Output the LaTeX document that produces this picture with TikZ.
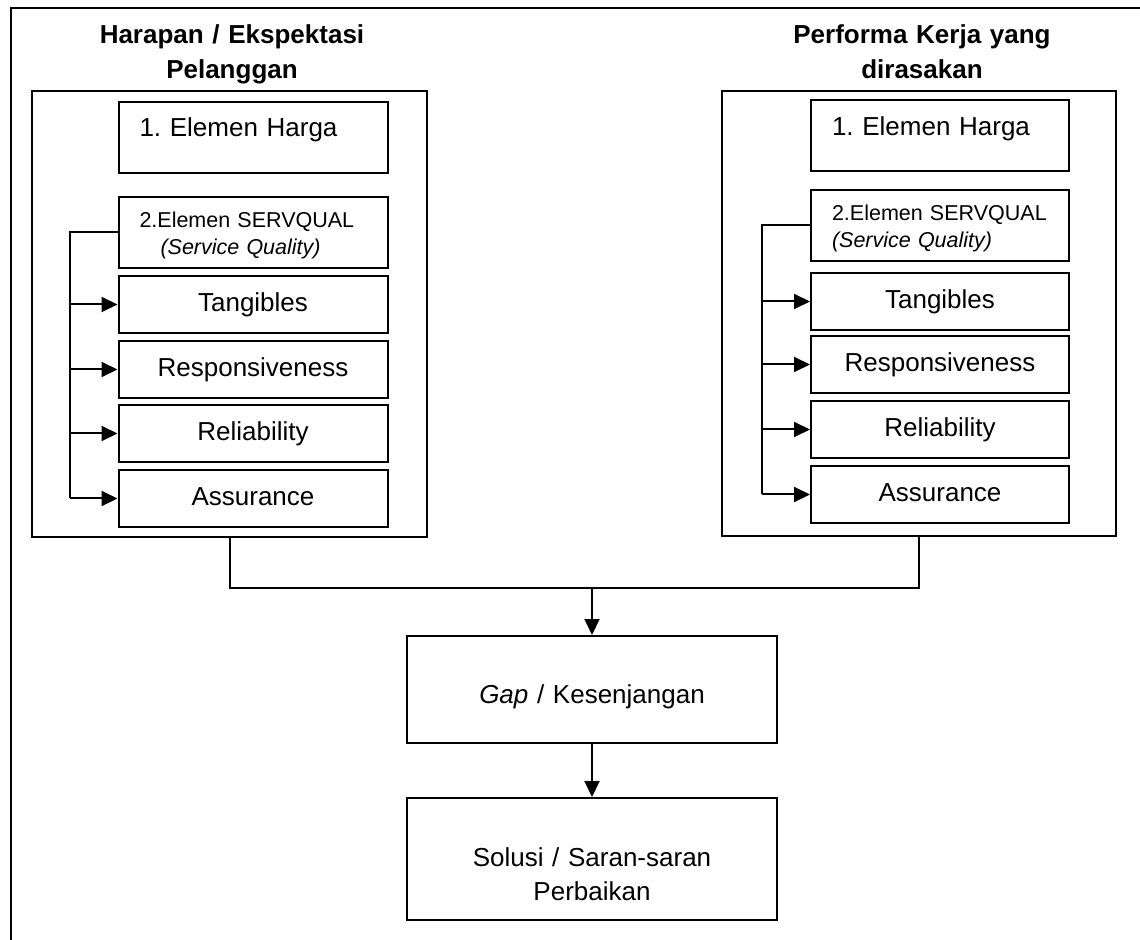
\documentclass[tikz,border=0pt]{standalone}
\usepackage{fontspec}
\setmainfont{Liberation Sans}
\usetikzlibrary{arrows.meta,positioning}
\frenchspacing

\begin{document}
\begin{tikzpicture}[x=0.5pt,y=-0.5pt,node distance=30pt,on grid,
    box/.style={draw,line width=1pt,inner sep=0pt,font=\fontsize{13pt}{17pt}\selectfont},
    group/.style={draw,line width=1pt,inner sep=0pt,minimum width=197.5pt,minimum height=223pt},
    head/.style={box,inner xsep=10.5pt,text width=#1-21pt,align=left,text height=17.5pt,text depth=18pt},
    sq/.style={box,inner xsep=10.5pt,text width=#1-21pt,align=left,text height=15.5pt,text depth=20pt,
      font=\fontsize{10.75pt}{13.5pt}\selectfont},
    item/.style={box,text width=#1,align=center,text height=18pt,text depth=10.5pt},
    result/.style={box,text width=185pt,align=center},
    title/.style={font=\bfseries\fontsize{13pt}{17.25pt}\selectfont,text width=150pt,align=center,
      inner sep=0pt,anchor=base},
    link/.style={line width=1pt},
    arr/.style={link,-{Triangle[length=8pt,width=7.5pt]}},
    pageframe/.style={line width=1.3pt}]
  \useasboundingbox (0,0) rectangle (1140,940);
  \draw[pageframe] (11,940) -- (11,8) -- (1140,8);

  % harapan
  \node[title] (ltitle) at (232,44) {Harapan / Ekspektasi\\Pelanggan};
  \node[group] (louter) at (229.5,314) {};
  \node[head=134.5pt] (lharga) at (253,137.5) {1. Elemen Harga};
  \node[sq=134.5pt] (lsq) [below=47.5pt of lharga] {2.Elemen SERVQUAL\\\hspace*{10.5pt}{\itshape(Service Quality)}};
  \node[item=134.5pt] (ltan) [below=36pt of lsq] {Tangibles};
  \node[item=134.5pt] (lres) [below=32.5pt of ltan] {Responsiveness};
  \node[item=134.5pt] (lrel) [below=32pt of lres] {Reliability};
  \node[item=134.5pt] (lass) [below=32.5pt of lrel] {Assurance};

  % performa
  \node[title] (rtitle) at (922,44) {Performa Kerja yang\\dirasakan};
  \node[group,minimum width=197pt,minimum height=222.5pt] (router) at (919,313.5) {};
  \node[head=129pt] (rharga) at (940,136) {1. Elemen Harga};
  \node[sq=129pt] (rsq) [below=44.75pt of rharga] {2.Elemen SERVQUAL\\{\itshape(Service Quality)}};
  \node[item=129pt] (rtan) [below=38pt of rsq] {Tangibles};
  \node[item=129pt] (rres) [below=31.5pt of rtan] {Responsiveness};
  \node[item=129pt] (rrel) [below=32.5pt of rres] {Reliability};
  \node[item=129pt] (rass) [below=32.5pt of rrel] {Assurance};

  \node[result,text height=33.5pt,text depth=20pt] (gap) at (592,689.5) {{\itshape Gap} / Kesenjangan};
  \node[result,text height=34pt,text depth=27pt] (solusi) [below=84.75pt of gap] {Solusi / Saran-saran\\Perbaikan};

  % servqual branches
  \draw[link] (lsq.west) -| ([xshift=-24pt]lass.west);
  \draw[link] (rsq.west) -| ([xshift=-24pt]rass.west);
  \foreach \n in {ltan,lres,lrel,lass,rtan,rres,rrel,rass}
    \draw[arr] ([xshift=-24pt]\n.west) -- (\n.west);

  \draw[link] (louter.south) -- ++(0,49.5) -| (router.south);
  \coordinate (join) at (592,586.5);
  \draw[arr] (join) -- (gap);
  \draw[arr] (gap) -- (solusi);
\end{tikzpicture}
\end{document}
